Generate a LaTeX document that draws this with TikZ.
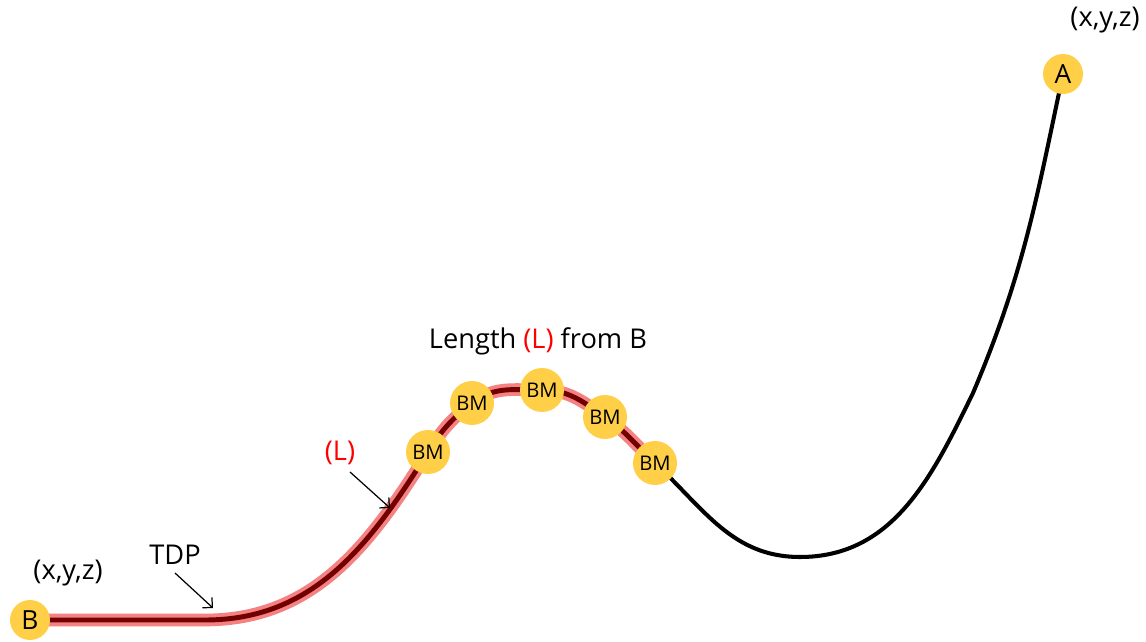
\documentclass[tikz,border=0pt]{standalone}
\usepackage{fontspec}
\setmainfont{Open Sans}
\definecolor{PinYellow}{HTML}{FFCF48}
\definecolor{GlowRed}{HTML}{F48282}
\definecolor{CoreRed}{HTML}{720000}
\usetikzlibrary{arrows.meta}

\begin{document}
\begin{tikzpicture}[x=0.02cm, y=0.02cm, >={Straight Barb[length=4pt, width=8pt]},
  pin/.style={circle, fill=PinYellow, minimum size=0.8cm, inner sep=0pt,
              font=\fontsize{15}{17}\selectfont},
  bm/.style={circle, fill=PinYellow, minimum size=0.88cm, inner sep=0pt,
             font=\fontsize{11.5}{13}\selectfont},
  lbl/.style={font=\fontsize{15.5}{18}\selectfont},
  glow/.style={line width=7.2pt, GlowRed},
  core/.style={line width=2.8pt, CoreRed},
  line/.style={line width=2.3pt, black}]
  \useasboundingbox (0,0) rectangle (1146,642);
  % points along the line
  \coordinate (tdp) at (205,22);
  \coordinate (bm1) at (428,190);
  \coordinate (bm2) at (472,239);
  \coordinate (bm3) at (542,252);
  \coordinate (bm4) at (605,225);
  \coordinate (bm5) at (655,179);
  \coordinate (low) at (800,85);
  \coordinate (bend) at (973,249);
  \coordinate (B) at (30,22);
  \coordinate (A) at (1063,568);
  % laid part, highlighted
  \foreach \s in {glow, core}
    \draw[\s] (B) -- (tdp) to[out=0, in=-122] (bm1)
      to[out=58, in=-142] (bm2) to[out=38, in=180] (bm3)
      to[out=0, in=145] (bm4) to[out=-35, in=137] (bm5);
  % suspended part
  \draw[line] (bm5) to[out=-43, in=180] (low) to[out=0, in=-116] (bend)
    to[out=67, in=-102] (A);
  % pins
  \node[pin] (nB) at (B) {B};
  \node[pin] (nA) at (A) {A};
  \node[bm] (m1) at (bm1) {BM};
  \node[bm] (m2) at (bm2) {BM};
  \node[bm] (m3) at (bm3) {BM};
  \node[bm] (m4) at (bm4) {BM};
  \node[bm] (m5) at (bm5) {BM};
  % labels
  \node[lbl] (xyzA) at (1105,622) {(x,y,z)};
  \node[lbl] (xyzB) at (68,69) {(x,y,z)};
  \node[lbl] (len) at (538,301) {Length \textcolor{red}{(L)} from B};
  \node[lbl, red] (Ltag) at (340,189) {(L)};
  \node[lbl] (tdptag) at (175,87) {TDP};
  % pointers
  \coordinate (Lfoot) at (350,170);
  \coordinate (Ltip) at (390,134);
  \coordinate (tdpfoot) at (175,69);
  \coordinate (tdptip) at (213,34);
  \draw[->, line width=0.7pt] (Lfoot) -- (Ltip);
  \draw[->, line width=0.7pt] (tdpfoot) -- (tdptip);
\end{tikzpicture}
\end{document}
